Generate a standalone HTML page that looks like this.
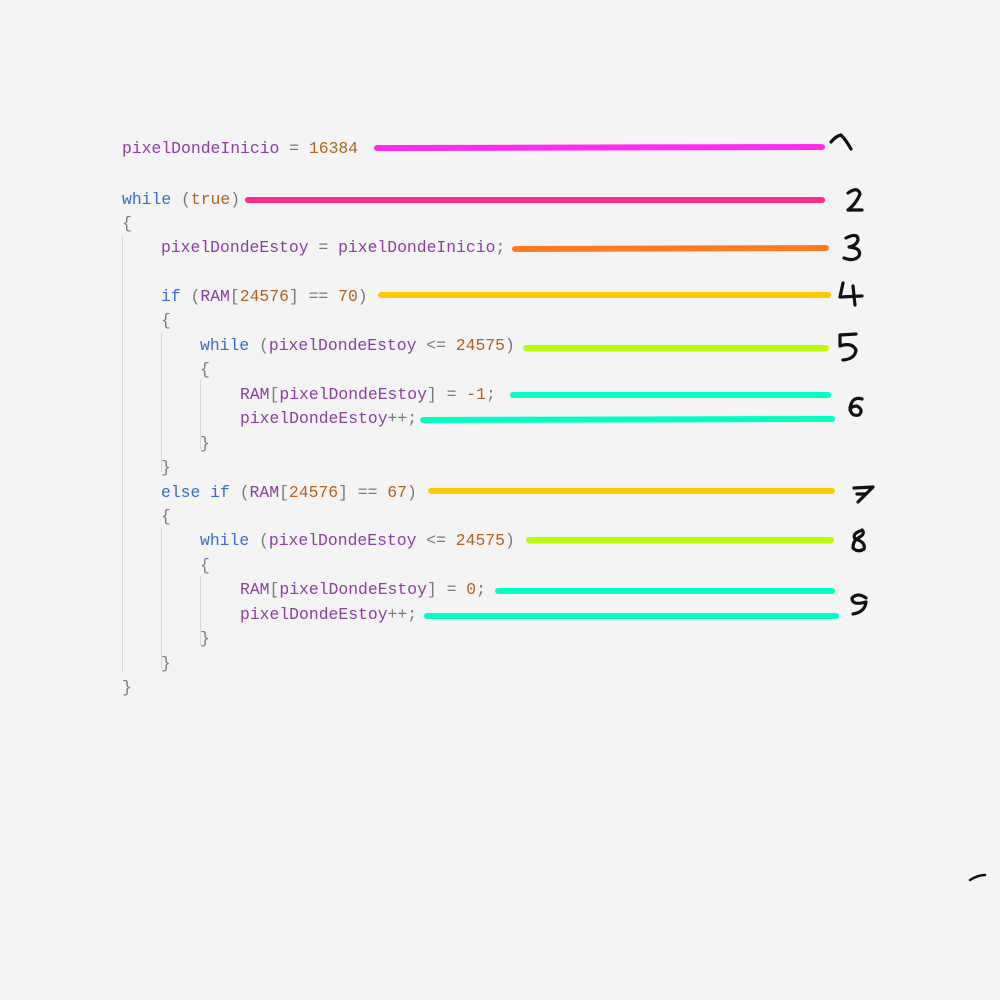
<!DOCTYPE html>
<html><head><meta charset="utf-8"><style>
html,body{margin:0;padding:0;background:#f4f4f4;width:1000px;height:1000px;overflow:hidden}
.c{position:absolute;font-family:"Liberation Mono",monospace;font-size:16.4px;white-space:pre;line-height:20px;color:#7a7a7a}
.v{color:#8b3fa0}.k{color:#3b6ec2}.n{color:#b0621f}
.g{position:absolute;width:1px;background:#d8d8d8}
svg{position:absolute;left:0;top:0}
</style></head><body>
<div class="g" style="left:122px;top:236px;height:436px"></div>
<div class="g" style="left:161px;top:332px;height:140px"></div>
<div class="g" style="left:161px;top:528px;height:140px"></div>
<div class="g" style="left:200px;top:380px;height:70px"></div>
<div class="g" style="left:200px;top:576px;height:70px"></div>

<div class="c" style="left:122px;top:139px"><span class="v">pixelDondeInicio</span> = <span class="n">16384</span></div>
<div class="c" style="left:122px;top:190px"><span class="k">while</span> (<span class="n">true</span>)</div>
<div class="c" style="left:122px;top:214px">{</div>
<div class="c" style="left:161px;top:238px"><span class="v">pixelDondeEstoy</span> = <span class="v">pixelDondeInicio</span>;</div>
<div class="c" style="left:161px;top:287px"><span class="k">if</span> (<span class="v">RAM</span>[<span class="n">24576</span>] == <span class="n">70</span>)</div>
<div class="c" style="left:161px;top:311px">{</div>
<div class="c" style="left:200px;top:336px"><span class="k">while</span> (<span class="v">pixelDondeEstoy</span> &lt;= <span class="n">24575</span>)</div>
<div class="c" style="left:200px;top:360px">{</div>
<div class="c" style="left:240px;top:385px"><span class="v">RAM</span>[<span class="v">pixelDondeEstoy</span>] = <span class="n">-1</span>;</div>
<div class="c" style="left:240px;top:409px"><span class="v">pixelDondeEstoy</span>++;</div>
<div class="c" style="left:200px;top:434px">}</div>
<div class="c" style="left:161px;top:458px">}</div>
<div class="c" style="left:161px;top:483px"><span class="k">else if</span> (<span class="v">RAM</span>[<span class="n">24576</span>] == <span class="n">67</span>)</div>
<div class="c" style="left:161px;top:507px">{</div>
<div class="c" style="left:200px;top:531px"><span class="k">while</span> (<span class="v">pixelDondeEstoy</span> &lt;= <span class="n">24575</span>)</div>
<div class="c" style="left:200px;top:556px">{</div>
<div class="c" style="left:240px;top:580px"><span class="v">RAM</span>[<span class="v">pixelDondeEstoy</span>] = <span class="n">0</span>;</div>
<div class="c" style="left:240px;top:605px"><span class="v">pixelDondeEstoy</span>++;</div>
<div class="c" style="left:200px;top:629px">}</div>
<div class="c" style="left:161px;top:654px">}</div>
<div class="c" style="left:122px;top:678px">}</div>

<svg width="1000" height="1000" viewBox="0 0 1000 1000">
<g stroke-linecap="round" stroke-width="6" fill="none">
<line x1="377" y1="148" x2="822" y2="147" stroke="#ff2cf0"/>
<line x1="248" y1="200" x2="822" y2="200" stroke="#ff2d86"/>
<line x1="515" y1="249" x2="826" y2="248" stroke="#ff7a22"/>
<line x1="381" y1="295" x2="828" y2="295" stroke="#ffc800"/>
<line x1="526" y1="348" x2="826" y2="348" stroke="#b4ff00"/>
<line x1="513" y1="395" x2="828" y2="395" stroke="#00ffc0"/>
<line x1="423" y1="420" x2="832" y2="419" stroke="#00ffc0"/>
<line x1="431" y1="491" x2="832" y2="491" stroke="#ffc800"/>
<line x1="529" y1="540" x2="831" y2="540" stroke="#b4ff00"/>
<line x1="498" y1="591" x2="832" y2="591" stroke="#00ffc0"/>
<line x1="427" y1="616" x2="836" y2="616" stroke="#00ffc0"/>
</g>
<g stroke="#111" stroke-width="3.2" fill="none" stroke-linecap="round" stroke-linejoin="round">
<path d="M831 142 Q836 136 841 135 Q846 140 851 149"/>
<path d="M848 193 Q858 186 860 194 Q856 204 848 210 L862 210"/>
<path d="M846 238 Q858 232 858 240 Q856 246 849 247 Q862 248 859 256 Q854 262 844 258"/>
<path d="M843 283 L840 297 L862 296 M853 286 L855 305"/>
<path d="M856 334 L840 335 L840 346 Q852 342 856 350 Q855 359 843 360"/>
<path d="M862 399 Q852 396 850 408 Q851 417 859 415 Q864 410 857 406 Q851 406 850 410"/>
<path d="M854 488 L873 487 L858 502 M857 494 L866 494"/>
<path d="M860 531 Q852 534 855 539 Q866 542 864 549 Q858 553 853 548 Q853 541 858 538 Q866 534 862 530"/>
<path d="M866 598 Q858 592 852 598 Q852 606 866 602 Q865 612 853 614"/>
<path d="M970 880 Q978 875 985 875" stroke-width="2.5"/>
</g>
</svg>
</body></html>
